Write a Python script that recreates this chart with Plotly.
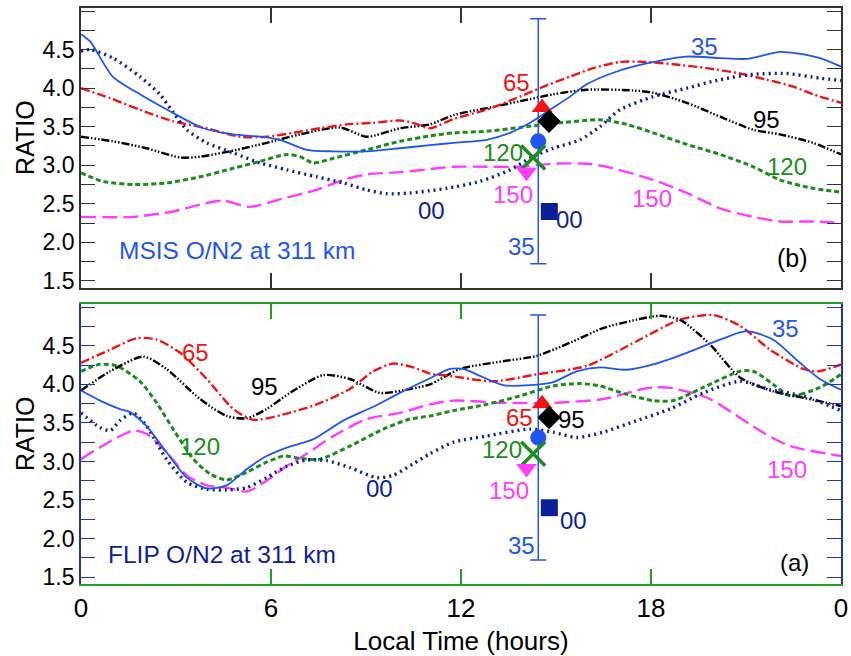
import plotly.graph_objects as go

# ---------------- data (hours, ratio) ----------------
# MSIS panel (b)
m35_h = [0, 0.3, 1.0, 1.86, 2.81, 3.86, 4.81, 5.65, 6.28, 7.13, 7.96, 9.02, 10.07, 11.02, 11.76, 12.81, 13.55, 14.18, 14.81, 15.44, 15.97, 16.81, 17.86, 19.13, 20.18, 21.02, 22.07, 22.6, 23.33, 24]
m35_v = [4.70, 4.60, 4.15, 3.92, 3.70, 3.48, 3.40, 3.37, 3.33, 3.20, 3.18, 3.18, 3.22, 3.26, 3.29, 3.33, 3.42, 3.55, 3.72, 3.89, 4.05, 4.20, 4.32, 4.41, 4.39, 4.38, 4.47, 4.45, 4.39, 4.28]
m00_h = [0, 0.3, 1.01, 1.86, 2.49, 2.92, 3.34, 3.97, 4.81, 5.65, 6.5, 7.44, 8.28, 9.02, 9.65, 10.39, 11.02, 11.55, 12.6, 13.55, 14.18, 14.91, 15.76, 16.39, 17.02, 18.07, 19.13, 20.18, 21.23, 22.28, 23.33, 24]
m00_v = [4.48, 4.50, 4.39, 4.15, 3.92, 3.68, 3.46, 3.29, 3.16, 3.03, 2.94, 2.85, 2.77, 2.68, 2.63, 2.64, 2.67, 2.70, 2.79, 2.94, 3.09, 3.22, 3.33, 3.50, 3.72, 3.89, 4.00, 4.11, 4.18, 4.19, 4.13, 4.10]
m65_h = [0, 0.92, 1.86, 2.91, 3.97, 5.02, 5.86, 6.7, 7.55, 8.39, 9.23, 10.07, 10.49, 11.02, 11.76, 12.81, 13.86, 14.49, 15.44, 16.18, 17.02, 17.86, 18.7, 19.76, 20.81, 21.65, 22.49, 23.12, 24]
m65_v = [4.00, 3.87, 3.72, 3.57, 3.48, 3.37, 3.37, 3.42, 3.48, 3.53, 3.55, 3.58, 3.55, 3.48, 3.60, 3.72, 3.89, 4.00, 4.15, 4.26, 4.34, 4.34, 4.31, 4.26, 4.19, 4.11, 4.02, 3.92, 3.81]
m95_h = [0, 1.01, 2.07, 3.13, 3.76, 4.81, 5.86, 6.92, 8.18, 9.02, 10.07, 11.02, 11.76, 12.81, 13.86, 14.91, 15.97, 17.44, 18.07, 19.13, 20.18, 21.23, 22.07, 23.12, 24]
m95_v = [3.37, 3.31, 3.22, 3.10, 3.11, 3.19, 3.29, 3.40, 3.49, 3.37, 3.48, 3.53, 3.65, 3.74, 3.83, 3.92, 3.98, 3.97, 3.94, 3.81, 3.63, 3.46, 3.40, 3.29, 3.14]
m120_h = [0, 0.7, 1.65, 2.7, 3.76, 4.81, 5.65, 6.5, 6.92, 7.34, 7.97, 9.02, 10.07, 11.02, 11.76, 12.81, 13.86, 14.91, 16.39, 17.23, 18.07, 19.13, 20.18, 21.23, 22.07, 23.12, 24]
m120_v = [2.90, 2.79, 2.75, 2.77, 2.85, 2.96, 3.05, 3.14, 3.11, 3.03, 3.09, 3.20, 3.31, 3.38, 3.42, 3.44, 3.49, 3.54, 3.59, 3.53, 3.42, 3.27, 3.14, 2.98, 2.81, 2.70, 2.65]
m150_h = [0, 1.65, 2.91, 3.76, 4.49, 5.34, 6.39, 7.44, 8.28, 9.02, 10.07, 11.02, 11.76, 12.81, 13.86, 14.91, 15.97, 16.6, 18.07, 19.13, 20.18, 21.23, 22.07, 23.12, 24]
m150_v = [2.33, 2.33, 2.40, 2.49, 2.54, 2.46, 2.57, 2.68, 2.81, 2.88, 2.91, 2.95, 2.98, 2.98, 2.98, 3.02, 3.02, 2.98, 2.81, 2.64, 2.44, 2.33, 2.27, 2.27, 2.25]

# FLIP panel (a)
f35_h = [0, 0.6, 1.23, 1.55, 2.07, 2.7, 3.34, 3.97, 4.6, 5.23, 5.86, 6.5, 7.34, 8.28, 9.23, 10.07, 11.02, 11.65, 12.07, 12.6, 13.33, 14.18, 14.91, 15.65, 16.39, 17.23, 18.07, 19.13, 20.18, 21.02, 21.86, 22.7, 23.33, 24]
f35_v = [3.92, 3.79, 3.68, 3.64, 3.46, 3.12, 2.79, 2.65, 2.69, 2.90, 3.07, 3.18, 3.29, 3.53, 3.71, 3.89, 4.08, 4.20, 4.20, 4.11, 3.99, 3.99, 4.03, 4.17, 4.22, 4.19, 4.26, 4.41, 4.58, 4.69, 4.58, 4.28, 4.07, 3.93]
f00_h = [0, 0.6, 0.92, 1.23, 1.65, 2.07, 2.7, 3.34, 3.97, 4.6, 5.23, 5.86, 6.5, 7.13, 7.76, 8.49, 9.34, 9.86, 10.49, 11.02, 11.76, 12.81, 14.18, 14.91, 15.65, 16.49, 17.55, 18.6, 19.65, 20.81, 21.76, 22.81, 24]
f00_v = [3.63, 3.44, 3.40, 3.53, 3.63, 3.46, 3.03, 2.73, 2.64, 2.63, 2.66, 2.79, 2.94, 3.02, 3.01, 2.92, 2.79, 2.82, 2.97, 3.10, 3.25, 3.33, 3.42, 3.38, 3.31, 3.38, 3.53, 3.68, 3.89, 4.04, 3.93, 3.85, 3.66]
f65_h = [0, 0.92, 1.76, 2.39, 3.13, 3.97, 4.81, 5.44, 6.39, 7.44, 8.49, 9.23, 9.86, 10.49, 11.02, 11.65, 13.02, 14.39, 15.97, 17.55, 18.91, 19.97, 20.81, 21.76, 22.81, 23.3, 24]
f65_v = [4.28, 4.45, 4.60, 4.58, 4.41, 4.07, 3.68, 3.54, 3.61, 3.74, 3.94, 4.17, 4.27, 4.22, 4.14, 4.11, 4.04, 4.13, 4.24, 4.56, 4.84, 4.90, 4.76, 4.45, 4.20, 4.17, 4.26]
f95_h = [0, 0.92, 1.97, 2.7, 3.76, 4.6, 5.23, 5.86, 6.6, 7.65, 8.49, 9.44, 10.39, 11.02, 11.97, 13.33, 14.39, 15.44, 16.49, 17.55, 18.28, 18.91, 19.86, 20.81, 21.86, 23.12, 24]
f95_v = [3.92, 4.17, 4.36, 4.20, 3.81, 3.59, 3.56, 3.68, 3.89, 4.12, 4.07, 3.89, 3.94, 4.00, 4.20, 4.30, 4.37, 4.54, 4.73, 4.84, 4.89, 4.84, 4.52, 4.09, 3.91, 3.80, 3.72]
f120_h = [0, 0.6, 1.13, 1.86, 2.39, 2.91, 3.55, 4.07, 4.6, 5.23, 5.86, 6.39, 6.92, 7.55, 8.49, 9.55, 10.39, 11.02, 11.76, 12.81, 13.86, 14.91, 15.76, 16.39, 17.23, 18.07, 18.7, 19.65, 20.81, 21.23, 21.86, 22.4, 23.33, 24]
f120_v = [4.17, 4.26, 4.24, 4.04, 3.76, 3.42, 3.03, 2.84, 2.76, 2.86, 2.99, 3.07, 3.04, 3.03, 3.20, 3.42, 3.55, 3.59, 3.66, 3.74, 3.85, 3.98, 4.01, 3.98, 3.87, 3.79, 3.79, 3.96, 4.17, 4.17, 4.00, 3.85, 3.96, 4.13]
f150_h = [0, 0.79, 1.65, 2.07, 2.7, 3.34, 3.97, 4.6, 5.23, 5.86, 6.5, 7.13, 7.97, 9.02, 10.07, 11.02, 11.76, 13.33, 14.91, 16.49, 17.86, 18.5, 19.76, 20.8, 21.6, 22.39, 24]
f150_v = [3.03, 3.23, 3.40, 3.36, 3.12, 2.82, 2.69, 2.66, 2.61, 2.75, 2.94, 3.10, 3.33, 3.55, 3.63, 3.74, 3.79, 3.76, 3.76, 3.81, 3.95, 3.96, 3.83, 3.57, 3.36, 3.20, 3.07]

# observed points (same in both panels)
obs_labels = ["65", "95", "35", "120", "150", "00"]
obs_h = [14.56, 14.78, 14.44, 14.28, 14.07, 14.79]
obs_v = [3.75, 3.57, 3.31, 3.10, 2.91, 2.40]
obs_err = 1.59

x_tickvals = [0, 6, 12, 18, 24]
x_ticktext = ["0", "6", "12", "18", "0"]
y_tickvals = [1.5, 2.0, 2.5, 3.0, 3.5, 4.0, 4.5]

# ---------------- style ----------------
BLUE = "#1f55f2"
NAVY = "#0c1f96"
RED = "#f21414"
GREEN = "#1c8c1c"
MAG = "#ff3cff"
BLK = "#000000"
FONT = "Liberation Sans, Arial, sans-serif"
LSIZE = 24

styles = {
    "35": dict(color=BLUE, width=1.8, dash="solid"),
    "00": dict(color=NAVY, width=3.4, dash="2px,4px"),
    "65": dict(color=RED, width=2.4, dash="9px,3px,2px,3px"),
    "95": dict(color=BLK, width=2.4, dash="8px,2px,1.5px,2px,1.5px,2px,1.5px,2px"),
    "120": dict(color=GREEN, width=3, dash="5px,3px"),
    "150": dict(color=MAG, width=2.4, dash="15px,6px"),
}
marker_styles = {
    "65": dict(symbol="triangle-up", size=18, color=RED),
    "95": dict(symbol="diamond", size=18, color=BLK),
    "35": dict(symbol="circle", size=16, color=BLUE),
    "120": dict(symbol="x-thin-open", size=24, color=GREEN, line=dict(width=3.5, color=GREEN)),
    "150": dict(symbol="triangle-down", size=18, color=MAG),
    "00": dict(symbol="square", size=17, color=NAVY),
}

fig = go.Figure()

panels = [
    ("x2", "y2", [("150", m150_h, m150_v), ("120", m120_h, m120_v), ("95", m95_h, m95_v),
                  ("65", m65_h, m65_v), ("00", m00_h, m00_v), ("35", m35_h, m35_v)]),
    ("x", "y", [("150", f150_h, f150_v), ("120", f120_h, f120_v), ("95", f95_h, f95_v),
                ("65", f65_h, f65_v), ("00", f00_h, f00_v), ("35", f35_h, f35_v)]),
]

for xa, ya, series in panels:
    for name, hh, vv in series:
        fig.add_trace(go.Scatter(x=hh, y=vv, mode="lines", xaxis=xa, yaxis=ya,
                                 line=dict(shape="spline", smoothing=0.7, **styles[name]),
                                 showlegend=False, hoverinfo="skip"))
    # error bar on blue observed point
    fig.add_trace(go.Scatter(x=[obs_h[2]], y=[obs_v[2]], mode="markers", xaxis=xa, yaxis=ya,
                             marker=dict(size=1, color=BLUE),
                             error_y=dict(type="data", array=[obs_err], color=BLUE, thickness=1.5, width=8),
                             showlegend=False, hoverinfo="skip"))
    for lab_, hh, vv in zip(obs_labels, obs_h, obs_v):
        fig.add_trace(go.Scatter(x=[hh], y=[vv], mode="markers", xaxis=xa, yaxis=ya,
                                 marker=marker_styles[lab_], showlegend=False, hoverinfo="skip"))

# ---------------- text labels ----------------
def lab(text, x, y, color, xr, yr, size=LSIZE, **kw):
    fig.add_annotation(text=text, x=x, y=y, xref=xr, yref=yr, showarrow=False,
                       font=dict(family=FONT, size=size, color=color), **kw)

# top panel (MSIS)
lab("35", 19.70, 4.54, BLUE, "x2", "y2")
lab("65", 13.76, 4.07, RED, "x2", "y2")
lab("95", 21.65, 3.59, BLK, "x2", "y2")
lab("120", 22.28, 2.98, GREEN, "x2", "y2")
lab("150", 18.02, 2.57, MAG, "x2", "y2")
lab("00", 11.08, 2.41, NAVY, "x2", "y2")
lab("120", 13.33, 3.16, GREEN, "x2", "y2")
lab("150", 13.63, 2.62, MAG, "x2", "y2")
lab("00", 15.44, 2.29, NAVY, "x2", "y2")
lab("35", 13.92, 1.95, BLUE, "x2", "y2")
lab("(b)", 22.48, 1.80, BLK, "x2", "y2", size=25)
lab("MSIS O/N2 at 311 km", 1.14, 1.89, BLUE, "x2", "y2", xanchor="left", size=24.5)

# bottom panel (FLIP)
lab("65", 3.60, 4.41, RED, "x", "y")
lab("95", 5.81, 3.97, BLK, "x", "y")
lab("120", 3.76, 3.19, GREEN, "x", "y")
lab("00", 9.44, 2.65, NAVY, "x", "y")
lab("35", 22.26, 4.73, BLUE, "x", "y")
lab("150", 22.28, 2.90, MAG, "x", "y")
lab("65", 13.86, 3.57, RED, "x", "y")
lab("95", 15.49, 3.55, BLK, "x", "y")
lab("120", 13.28, 3.15, GREEN, "x", "y")
lab("150", 13.52, 2.62, MAG, "x", "y")
lab("00", 15.55, 2.24, NAVY, "x", "y")
lab("35", 13.92, 1.91, BLUE, "x", "y")
lab("(a)", 22.53, 1.69, BLK, "x", "y", size=24)
lab("FLIP O/N2 at 311 km", 0.79, 1.79, NAVY, "x", "y", xanchor="left", size=24.5)

# RATIO titles
for yr in ["y domain", "y2 domain"]:
    fig.add_annotation(text="RATIO", xref="paper", yref=yr, x=0, y=0.5, xshift=-56, yshift=10,
                       xanchor="center", yanchor="middle",
                       showarrow=False, textangle=-90,
                       font=dict(family=FONT, size=25, color=BLK))

# ---------------- axes ----------------
DARK = "#333333"
LGREEN = "#22a022"
LNAVY = "#23389a"

def xax(color, show_labels, anchor):
    return dict(range=[0, 24], tickvals=x_tickvals, ticktext=x_ticktext, showticklabels=show_labels,
                ticks="inside", ticklen=15, tickwidth=1.5, tickcolor=color,
                showline=True, linecolor=color, linewidth=1.8, mirror="ticks",
                showgrid=False, zeroline=False, anchor=anchor, automargin=False,
                tickfont=dict(family=FONT, size=26, color=BLK))

def yax(color, domain, anchor):
    return dict(range=[1.41, 5.04], tickvals=y_tickvals, ticktext=[f"{v:.1f}" for v in y_tickvals],
                ticks="inside", ticklen=14, tickwidth=1.2, tickcolor=color,
                minor=dict(dtick=0.25, tick0=1.5, ticks="inside", ticklen=14, tickwidth=1.2, tickcolor=color),
                showline=True, linecolor=color, linewidth=1.8, mirror="ticks",
                showgrid=False, zeroline=False, domain=domain, anchor=anchor, automargin=False,
                tickfont=dict(family=FONT, size=23, color=BLK))

fig.update_layout(
    width=851, height=656,
    margin=dict(l=81, r=10, t=8, b=72),
    paper_bgcolor="white", plot_bgcolor="white",
    xaxis=dict(**xax(LGREEN, True, "y"),
               title=dict(text="Local Time (hours)", font=dict(family=FONT, size=26, color=BLK), standoff=12)),
    yaxis=yax(LNAVY, [0, 0.4857], "x"),
    xaxis2=xax(DARK, False, "y2"),
    yaxis2=yax(DARK, [0.5143, 1.0], "x2"),
    font=dict(family=FONT),
)

fig.write_html("out.html")
